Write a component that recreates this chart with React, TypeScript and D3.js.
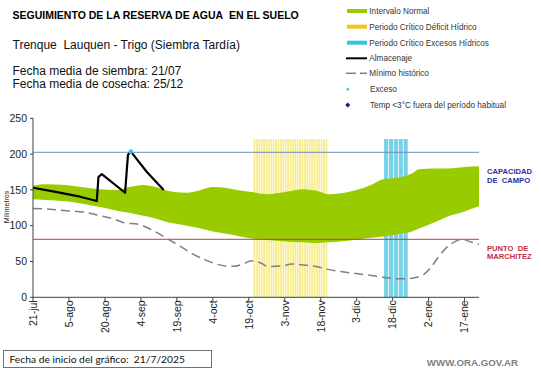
import React from "react";
import * as d3 from "d3";

// ---- data (day index from 21-jul) ----
const bandDays = [0, 5, 14, 20, 28, 35, 40, 46, 50, 55, 59, 64, 70, 75, 80, 85, 91, 98, 105, 113, 118, 123, 128, 134, 141, 146, 152, 158, 161, 167, 173, 180, 186];
const bandLower = [137, 136, 134, 131, 126, 121, 118, 114, 111, 106, 103, 100, 96, 92, 89, 86, 82, 80, 78, 77, 76, 77, 78, 80, 83, 85, 88, 92, 96, 104, 113, 120, 127];
const bandUpper = [156, 158, 157, 154, 151, 150, 154, 157, 155, 150, 147, 146, 150, 154, 153, 150, 147, 144, 147, 151, 149, 144, 145, 149, 157, 165, 167, 173, 179, 180, 180, 182, 183];

const minDays = [0, 7, 14, 21, 28, 34, 38, 44, 49, 53, 57, 62, 67, 72, 77, 81, 84, 88, 91, 95, 98, 104, 108, 113, 118, 123, 128, 134, 140, 146, 152, 156, 160, 163, 166, 169, 172, 175, 179, 182, 186];
const minValues = [124, 123, 121, 119, 114, 109, 104, 102, 95, 88, 80, 70, 60, 52, 46, 43.5, 43.5, 47, 51, 48, 43, 44, 46.5, 45, 43, 39, 36, 33.5, 31, 28, 26, 26, 28, 32, 42, 56, 68, 76, 81, 78, 74];

const storDays = [0, 10, 19.6, 26.6, 27.3, 28.7, 38.4, 39.6, 40.8, 47.5, 54.5];
const storValues = [153, 147, 140.5, 134.5, 168, 172, 146, 199, 203.4, 175, 150];

const excessDays = [40.8];
const excessValues = [203.4];

const fieldCapacity = 202.5;
const wiltingPoint = 81;

const deficitPeriod = [92, 123];
const excessPeriod = [146.4, 156.6];
const periodTop = 221;

const xTickDays = [0, 15, 30, 45, 60, 75, 90, 105, 120, 135, 150, 165, 180];
const xTickLabels = ["21-jul", "5-ago", "20-ago", "4-sep", "19-sep", "4-oct", "19-oct", "3-nov", "18-nov", "3-dic", "18-dic", "2-ene", "17-ene"];
const yTicks = [0, 50, 100, 150, 200, 250];

const legendLabels = [
  "Intervalo Normal",
  "Periodo Crítico Déficit Hídrico",
  "Periodo Crítico Excesos Hídricos",
  "Almacenaje",
  "Mínimo histórico",
  "Exceso",
  "Temp <3°C fuera del período habitual",
];

const FONT = "'Liberation Sans', Arial, sans-serif";
const NB = "\u00a0";

export default function App() {
  const x = d3.scaleLinear().domain([0, 186]).range([33, 479]);
  const y = d3.scaleLinear().domain([0, 250]).range([297.3, 118.3]);

  const band = bandDays.map((d, i) => ({ d, lo: bandLower[i], hi: bandUpper[i] }));
  const area = d3
    .area<any>()
    .x((p) => x(p.d))
    .y0((p) => y(p.lo))
    .y1((p) => y(p.hi))
    .curve(d3.curveMonotoneX);
  const minLine = d3
    .line<any>()
    .x((p) => x(p.d))
    .y((p) => y(p.v))
    .curve(d3.curveMonotoneX);
  const storLine = d3
    .line<any>()
    .x((p) => x(p.d))
    .y((p) => y(p.v));

  const minPts = minDays.map((d, i) => ({ d, v: minValues[i] }));
  const storPts = storDays.map((d, i) => ({ d, v: storValues[i] }));

  const defBars = d3.range(deficitPeriod[0], deficitPeriod[1], 1);
  const excBars = d3.range(excessPeriod[0], excessPeriod[1] - 0.01, 2.04);

  const legendY = [11, 26.7, 42.7, 58.3, 73.3, 89.3, 105];

  return (
    <svg width={541} height={368} style={{ position: "absolute", left: 0, top: 0, background: "#fff" }} fontFamily={FONT}>
      <rect width={541} height={368} fill="#fff" />
      {/* titles */}
      <text x={12.5} y={19.3} fontSize={10.5} fontWeight="bold" fill="#000">
        {`SEGUIMIENTO DE LA RESERVA DE AGUA${NB} EN EL SUELO`}
      </text>
      <text x={12.5} y={49} fontSize={12} fill="#111">
        {`Trenque${NB} Lauquen - Trigo (Siembra Tardía)`}
      </text>
      <text x={12.5} y={74.6} fontSize={12} fill="#111">
        Fecha media de siembra: 21/07
      </text>
      <text x={12.5} y={87.6} fontSize={12} fill="#111">
        Fecha media de cosecha: 25/12
      </text>

      {/* legend */}
      <rect x={347} y={legendY[0] - 2} width={20} height={4} fill="#99cc00" />
      <rect x={347} y={legendY[1] - 2} width={20} height={4} fill="#f5c518" />
      <rect x={347} y={legendY[2] - 2} width={20} height={4} fill="#33c4e0" />
      <line x1={346} x2={367} y1={legendY[3]} y2={legendY[3]} stroke="#000" strokeWidth={2} />
      <line x1={346} x2={356} y1={legendY[4]} y2={legendY[4]} stroke="#808080" strokeWidth={1.5} />
      <line x1={360} x2={367} y1={legendY[4]} y2={legendY[4]} stroke="#808080" strokeWidth={1.5} />
      <circle cx={347.7} cy={legendY[5]} r={1.3} fill="#33c4e0" />
      <path d={`M347.7,${legendY[6] - 2.5} L350.2,${legendY[6]} L347.7,${legendY[6] + 2.5} L345.2,${legendY[6]} Z`} fill="#1a1a9a" />
      {legendLabels.map((t, i) => (
        <text key={t} x={i >= 5 ? 370 : 369.3} y={legendY[i] + 3} fontSize={8.2} fill="#333">
          {t}
        </text>
      ))}

      {/* critical period stripes */}
      {defBars.map((d) => (
        <rect key={"d" + d} x={x(d)} y={y(periodTop)} width={x(d + 1) - x(d) - 0.6} height={y(0) - y(periodTop)} fill="#f6ec95" />
      ))}
      {excBars.map((d) => (
        <rect key={"e" + d} x={x(d)} y={y(periodTop)} width={x(d + 2.04) - x(d) - 0.8} height={y(0) - y(periodTop)} fill="#78d2e6" />
      ))}

      {/* normal band */}
      <path d={area(band) || ""} fill="#99cc00" />

      {/* reference lines */}
      <line x1={x(0)} x2={x(186)} y1={y(fieldCapacity)} y2={y(fieldCapacity)} stroke="#7090b8" strokeWidth={1} />
      <line x1={x(0)} x2={x(186)} y1={y(wiltingPoint)} y2={y(wiltingPoint)} stroke="#b84040" strokeWidth={1} />

      {/* minimum historical */}
      <path d={minLine(minPts) || ""} fill="none" stroke="#808080" strokeWidth={1.5} strokeDasharray="9,5" />

      {/* storage */}
      <path d={storLine(storPts) || ""} fill="none" stroke="#000" strokeWidth={2.2} strokeLinejoin="round" />
      {excessDays.map((d, i) => (
        <circle key={d} cx={x(d)} cy={y(excessValues[i])} r={2.3} fill="#33c4e0" />
      ))}

      {/* axes */}
      <line x1={33} x2={33} y1={y(250)} y2={y(0)} stroke="#404040" strokeWidth={1} />
      <line x1={33} x2={x(186)} y1={y(0)} y2={y(0)} stroke="#404040" strokeWidth={1} />
      {yTicks.map((t) => (
        <g key={t}>
          <line x1={30} x2={33} y1={y(t)} y2={y(t)} stroke="#404040" />
          <text x={27} y={y(t)} dy="0.36em" textAnchor="end" fontSize={10.5} fill="#222">
            {t}
          </text>
        </g>
      ))}
      {xTickDays.map((d, i) => (
        <g key={d}>
          <line x1={x(d)} x2={x(d)} y1={y(0)} y2={y(0) + 4} stroke="#404040" />
          <text transform={`translate(${x(d)},${y(0) + 3}) rotate(-90)`} dy="0.36em" textAnchor="end" fontSize={10.5} fill="#222">
            {xTickLabels[i]}
          </text>
        </g>
      ))}
      <text transform={`translate(9,207) rotate(-90)`} textAnchor="middle" fontSize={7} fill="#222">
        Milímetros
      </text>

      {/* right labels */}
      <text x={487} y={173.5} fontSize={7.6} fill="#2e2e9e" fontWeight="bold">CAPACIDAD</text>
      <text x={487} y={182.5} fontSize={7.6} fill="#2e2e9e" fontWeight="bold">{`DE${NB} CAMPO`}</text>
      <text x={487} y={250.5} fontSize={7.6} fill="#c03040" fontWeight="bold">{`PUNTO${NB} DE`}</text>
      <text x={487} y={259} fontSize={7.6} fill="#c03040" fontWeight="bold">MARCHITEZ</text>

      {/* footer */}
      <rect x={3.5} y={350.5} width={208} height={17} fill="#fff" stroke="#707070" strokeWidth={1} />
      <text x={9.5} y={362.5} fontSize={10.3} fontFamily="Lato, 'Open Sans', sans-serif" fill="#111">
        {`Fecha de inicio del gráfico:${NB}${NB}21/7/2025`}
      </text>
      <text x={518} y={366} textAnchor="end" fontSize={9.7} fontWeight="bold" fill="#7f7f7f">
        WWW.ORA.GOV.AR
      </text>
    </svg>
  );
}
